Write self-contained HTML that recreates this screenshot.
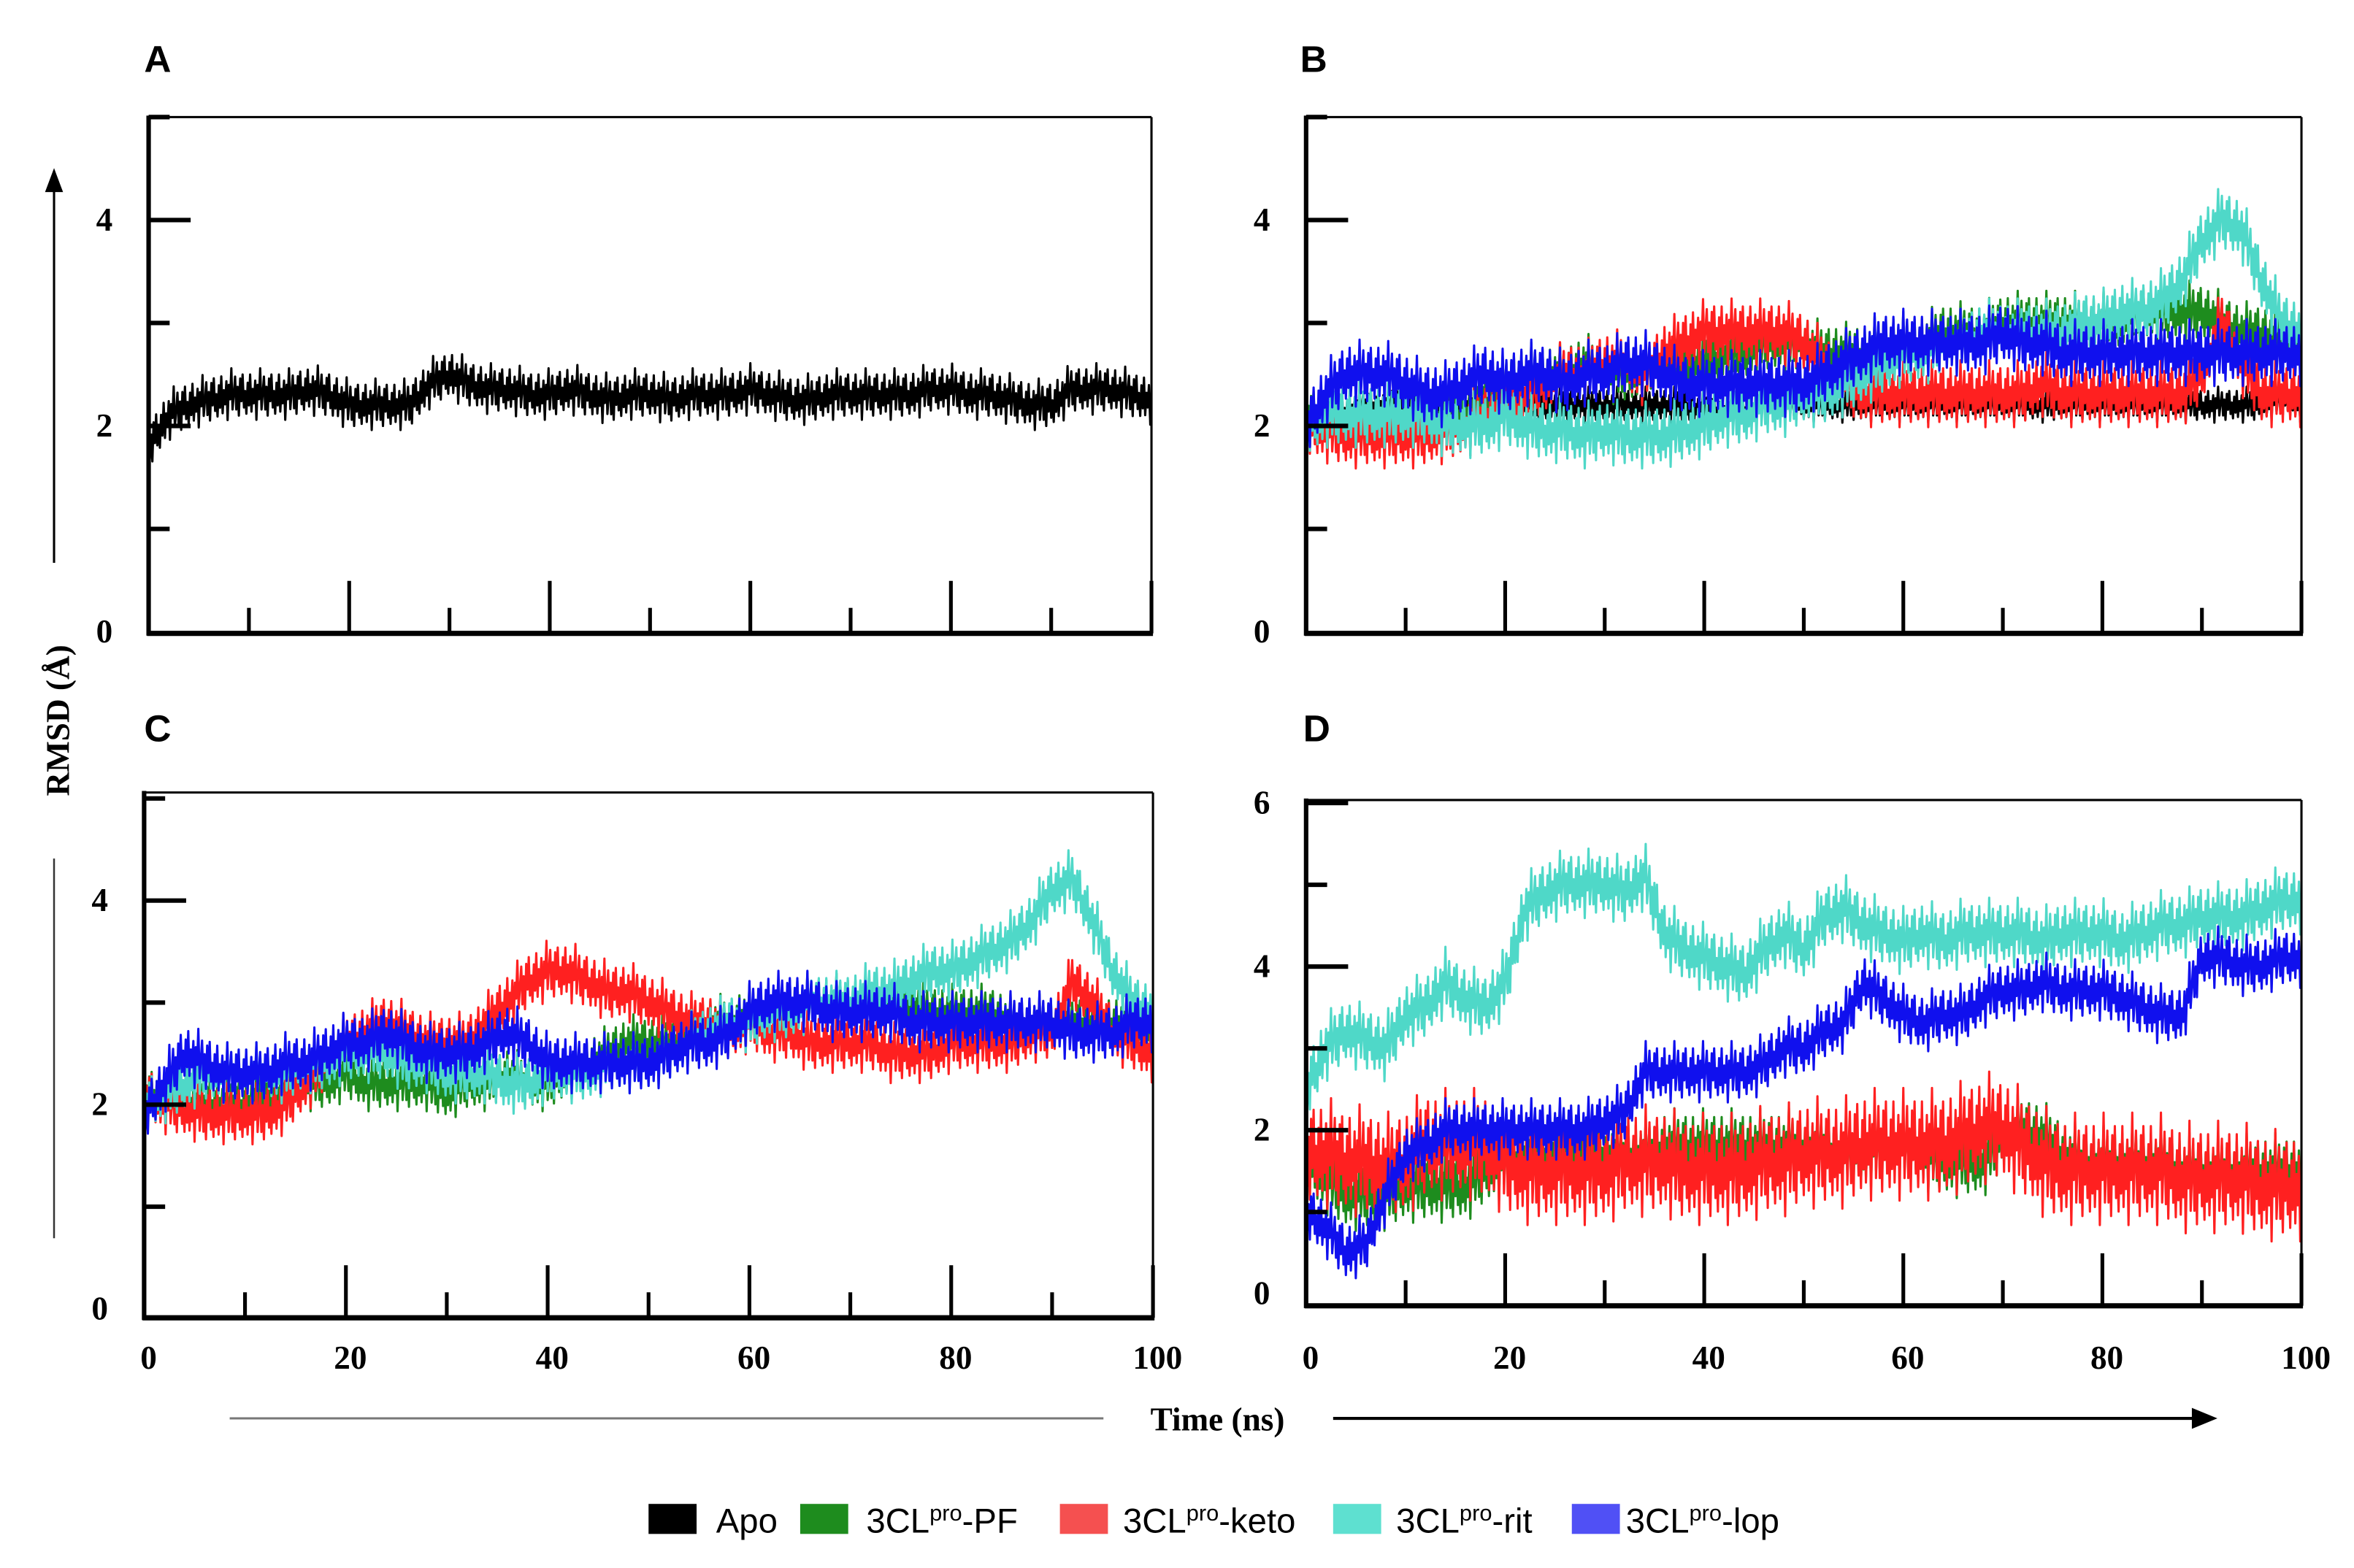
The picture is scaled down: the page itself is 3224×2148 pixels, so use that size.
<!DOCTYPE html>
<html><head><meta charset="utf-8"><title>RMSD panels</title>
<style>
html,body{margin:0;padding:0;background:#fff;}
svg{display:block;}
.tl{font-family:"Liberation Serif",serif;font-weight:bold;font-size:22px;}
.pl{font-family:"Liberation Sans",sans-serif;font-weight:bold;font-size:25px;}
.lg{font-family:"Liberation Sans",sans-serif;font-size:23px;}
</style></head><body>
<svg id="fig" width="3224" height="2148" viewBox="0 0 1568 1044.7" preserveAspectRatio="none" xmlns="http://www.w3.org/2000/svg">
<defs>
<clipPath id="cA"><rect x="99" y="78" width="668" height="344"/></clipPath>
<clipPath id="cB"><rect x="870" y="78" width="663" height="344"/></clipPath>
<clipPath id="cC"><rect x="96" y="528" width="672" height="350"/></clipPath>
<clipPath id="cD"><rect x="870" y="533" width="663" height="337"/></clipPath>
</defs>
<g id="plots"></g>
<text class="tl" transform="translate(46,480) rotate(-90)" text-anchor="middle" font-size="21">RMSD (Å)</text>
<line x1="36" y1="375" x2="36" y2="124" stroke="#000" stroke-width="1.5"/>
<polygon points="30,128 42,128 36,112" fill="#000"/>
<line x1="36" y1="572" x2="36" y2="825" stroke="#333" stroke-width="1.2"/>
<text class="tl" x="811" y="953" text-anchor="middle">Time (ns)</text>
<line x1="153" y1="945" x2="735" y2="945" stroke="#777" stroke-width="1.5"/>
<line x1="888" y1="945" x2="1462" y2="945" stroke="#000" stroke-width="2"/>
<polygon points="1460,938 1460,952 1477,945" fill="#000"/>
<text class="pl" x="96" y="48">A</text>
<text class="pl" x="866" y="48">B</text>
<text class="pl" x="96" y="494">C</text>
<text class="pl" x="868" y="494">D</text>
<g>
<g><rect x="432" y="1002" width="32" height="20" fill="#000"/><text class="lg" x="477" y="1021">Apo</text></g>
<g><rect x="533" y="1002" width="32" height="20" fill="#1e8c1e"/><text class="lg" x="577" y="1021">3CL<tspan font-size="15" dy="-8">pro</tspan><tspan dy="8">-PF</tspan></text></g>
<g><rect x="706" y="1002" width="32" height="20" fill="#f55050"/><text class="lg" x="748" y="1021">3CL<tspan font-size="15" dy="-8">pro</tspan><tspan dy="8">-keto</tspan></text></g>
<g><rect x="888" y="1002" width="32" height="20" fill="#5ee0d0"/><text class="lg" x="930" y="1021">3CL<tspan font-size="15" dy="-8">pro</tspan><tspan dy="8">-rit</tspan></text></g>
<g><rect x="1047" y="1002" width="32" height="20" fill="#5050f5"/><text class="lg" x="1083" y="1021">3CL<tspan font-size="15" dy="-8">pro</tspan><tspan dy="8">-lop</tspan></text></g>
</g>
</svg>
<script>
const times = [0,2,4,6,8,10,12,14,16,18,20,22,24,26,28,30,32,34,36,38,40,42,44,46,48,50,52,54,56,58,60,62,64,66,68,70,72,74,76,78,80,82,84,86,88,90,92,94,96,98,100];
const xTickLabels = ["0","20","40","60","80","100"];
const yTickLabelsABC = ["0","2","4"];
const yTickLabelsD = ["0","2","4","6"];
const A_apo = [1.8,2.1,2.2,2.25,2.3,2.3,2.3,2.3,2.35,2.3,2.2,2.2,2.2,2.2,2.4,2.5,2.4,2.35,2.35,2.3,2.3,2.35,2.3,2.25,2.3,2.3,2.25,2.3,2.3,2.3,2.35,2.3,2.25,2.25,2.3,2.3,2.3,2.3,2.3,2.35,2.35,2.3,2.3,2.25,2.2,2.2,2.35,2.35,2.35,2.3,2.25];
const B_apo = [1.9,2.1,2.15,2.2,2.2,2.25,2.2,2.2,2.2,2.2,2.2,2.2,2.2,2.2,2.2,2.2,2.2,2.2,2.2,2.2,2.15,2.15,2.15,2.2,2.2,2.2,2.2,2.2,2.2,2.2,2.2,2.2,2.2,2.2,2.2,2.2,2.2,2.2,2.2,2.2,2.2,2.2,2.2,2.2,2.2,2.2,2.2,2.2,2.2,2.25,2.2];
const B_pf = [2.1,2.1,2.0,2.0,2.0,2.0,2.0,2.1,2.1,2.2,2.4,2.5,2.5,2.5,2.6,2.5,2.5,2.5,2.6,2.6,2.6,2.7,2.7,2.8,2.8,2.8,2.7,2.7,2.7,2.8,2.8,2.8,2.9,2.9,2.9,3.0,3.0,3.0,3.0,3.0,3.0,3.0,3.1,3.1,3.1,3.1,3.0,2.9,2.9,2.8,2.8];
const B_keto = [2.0,1.95,1.9,1.9,1.9,1.9,1.9,1.95,2.0,2.1,2.2,2.3,2.4,2.5,2.5,2.6,2.6,2.5,2.7,2.8,2.9,2.9,2.9,2.9,2.9,2.8,2.6,2.4,2.3,2.3,2.3,2.3,2.3,2.3,2.3,2.3,2.3,2.4,2.3,2.3,2.3,2.3,2.3,2.3,2.3,2.5,3.0,2.6,2.3,2.3,2.3];
const B_rit = [2.0,2.1,2.1,2.1,2.1,2.1,2.1,2.0,2.0,2.0,2.1,2.0,1.95,1.95,1.9,1.95,1.9,1.9,1.9,1.95,2.0,2.1,2.1,2.2,2.2,2.3,2.3,2.4,2.5,2.6,2.7,2.7,2.8,2.8,2.9,2.9,2.9,2.9,2.9,3.0,3.0,3.1,3.1,3.2,3.4,3.8,4.0,3.9,3.4,3.0,2.9];
const B_lop = [2.0,2.3,2.5,2.5,2.5,2.4,2.3,2.3,2.4,2.5,2.4,2.5,2.5,2.4,2.5,2.5,2.6,2.6,2.5,2.4,2.4,2.4,2.4,2.4,2.4,2.4,2.5,2.6,2.7,2.8,2.8,2.8,2.8,2.8,2.8,2.9,2.8,2.8,2.7,2.7,2.7,2.7,2.7,2.7,2.7,2.7,2.7,2.7,2.7,2.7,2.7];
const C_pf = [2.1,2.1,2.0,2.0,2.0,2.0,2.1,2.1,2.2,2.2,2.3,2.2,2.2,2.2,2.2,2.1,2.2,2.2,2.3,2.2,2.2,2.3,2.4,2.5,2.6,2.6,2.6,2.7,2.8,2.8,2.9,2.9,3.0,3.0,3.0,3.0,3.0,3.0,3.0,2.9,2.9,2.9,2.9,2.8,2.8,2.8,2.8,2.8,2.8,2.8,2.7];
const C_keto = [2.1,2.0,1.95,1.9,1.9,1.9,1.9,2.0,2.2,2.4,2.6,2.7,2.8,2.7,2.6,2.6,2.6,2.8,3.0,3.2,3.3,3.3,3.2,3.1,3.1,3.0,2.9,2.8,2.8,2.7,2.8,2.7,2.7,2.6,2.6,2.6,2.6,2.5,2.5,2.5,2.6,2.6,2.6,2.6,2.7,2.7,3.2,3.0,2.7,2.6,2.5];
const C_rit = [2.0,2.1,2.2,2.3,2.3,2.3,2.3,2.3,2.4,2.4,2.5,2.5,2.5,2.4,2.4,2.3,2.3,2.3,2.2,2.2,2.3,2.3,2.3,2.4,2.4,2.4,2.5,2.6,2.7,2.8,2.8,2.9,2.9,3.0,3.0,3.0,3.1,3.1,3.2,3.3,3.3,3.4,3.5,3.6,3.8,4.1,4.2,3.8,3.3,3.0,2.9];
const C_lop = [1.9,2.2,2.5,2.4,2.3,2.3,2.3,2.4,2.4,2.5,2.6,2.6,2.7,2.6,2.5,2.5,2.5,2.6,2.7,2.6,2.4,2.4,2.4,2.4,2.4,2.4,2.5,2.6,2.6,2.7,2.9,3.0,3.0,3.0,2.9,2.9,2.9,2.9,2.8,2.8,2.8,2.8,2.8,2.8,2.8,2.8,2.7,2.7,2.7,2.8,2.8];
const D_pf = [1.6,1.4,1.2,1.2,1.2,1.3,1.3,1.3,1.3,1.5,1.6,1.7,1.7,1.8,1.8,1.7,1.7,1.7,1.8,1.8,1.8,1.8,1.8,1.8,1.8,1.8,1.8,1.7,1.7,1.8,1.8,1.7,1.6,1.6,1.6,1.9,2.0,1.9,1.7,1.6,1.6,1.6,1.6,1.6,1.5,1.5,1.5,1.5,1.5,1.5,1.5];
const D_keto = [1.7,1.7,1.6,1.6,1.5,1.6,1.8,1.8,1.8,1.8,1.6,1.5,1.5,1.5,1.5,1.5,1.6,1.6,1.6,1.5,1.5,1.5,1.5,1.6,1.6,1.7,1.7,1.7,1.8,1.8,1.8,1.8,1.8,1.9,2.0,2.0,1.8,1.6,1.5,1.5,1.5,1.5,1.5,1.5,1.4,1.4,1.4,1.4,1.3,1.3,1.3];
const D_rit = [2.5,3.0,3.2,3.1,3.0,3.4,3.5,3.8,3.6,3.5,3.8,4.7,4.9,5.0,5.0,5.0,4.9,5.1,4.4,4.2,4.1,4.0,3.9,4.2,4.4,4.2,4.6,4.7,4.5,4.4,4.3,4.4,4.3,4.4,4.4,4.4,4.4,4.3,4.4,4.4,4.4,4.3,4.4,4.5,4.5,4.6,4.6,4.6,4.7,4.8,4.8];
const D_lop = [1.0,0.8,0.5,0.6,1.2,1.7,1.8,2.0,2.0,2.0,2.0,2.0,2.0,2.0,2.0,2.1,2.2,2.7,2.7,2.7,2.7,2.7,2.7,2.8,3.0,3.0,3.2,3.3,3.8,3.6,3.4,3.3,3.4,3.4,3.6,3.7,3.7,3.8,3.7,3.7,3.7,3.6,3.5,3.4,3.4,4.1,4.1,4.0,4.0,4.1,4.1];

const COL = {apo:"#000000", pf:"#1e8c1e", keto:"#ff2020", rit:"#4fd8c8", lop:"#1010ee"};
const NS = "http://www.w3.org/2000/svg";
const root = document.getElementById("plots");
const jitter = [0.9,-0.7,0.4,-1,0.8,-0.3,1,-0.6,0.2,-0.9,0.6,-0.5,1,-0.8,0.3,-0.4,0.7,-1.2,0.5,-0.2,1.3,-0.7,0.1];

function mk(tag, attrs, parent){
  const e = document.createElementNS(NS, tag);
  for (const k in attrs) e.setAttribute(k, attrs[k]);
  parent.appendChild(e);
  return e;
}

const panels = [
  {id:"a", L:99, R:767, T:78, B:422, y0:421, k:68.6, ymax:5, yt:yTickLabelsABC, clip:"cA", xl:false,
   series:[["apo",A_apo,0.2]]},
  {id:"b", L:870, R:1533, T:78, B:422, y0:421, k:68.6, ymax:5, yt:yTickLabelsABC, clip:"cB", xl:false,
   series:[["apo",B_apo,0.14],["pf",B_pf,0.24],["keto",B_keto,0.26],["rit",B_rit,0.26],["lop",B_lop,0.26]]},
  {id:"c", L:96, R:768, T:528, B:878, y0:872, k:68, ymax:5, yt:yTickLabelsABC, clip:"cC", xl:true,
   series:[["pf",C_pf,0.22],["keto",C_keto,0.24],["rit",C_rit,0.24],["lop",C_lop,0.24]]},
  {id:"d", L:870, R:1533, T:533, B:870, y0:862, k:54.5, ymax:6, yt:yTickLabelsD, clip:"cD", xl:true,
   series:[["pf",D_pf,0.36],["keto",D_keto,0.55],["rit",D_rit,0.34],["lop",D_lop,0.3]]}
];

panels.forEach(p => {
  const g = mk("g", {}, root);
  
  
  const xS = t => p.L + (t/100)*(p.R - p.L);
  const yS = v => p.y0 - v*p.k;
  const sg = mk("g", {"clip-path":"url(#"+p.clip+")"}, g);
  p.series.forEach(s => {
    const [key, vals, amp] = s;
    let pts = [];
    let c = 0;
    for (let i = 0; i < vals.length - 1; i++) {
      const sub = 16;
      for (let j = 0; j < sub; j++) {
        const f = j/sub;
        const t = times[i] + f*(times[i+1]-times[i]);
        const v = vals[i] + f*(vals[i+1]-vals[i]) + amp*jitter[c % jitter.length];
        c++;
        pts.push(xS(t).toFixed(1) + "," + yS(v).toFixed(1));
      }
    }
    pts.push(xS(times[times.length-1]).toFixed(1) + "," + yS(vals[vals.length-1]).toFixed(1));
    const pl = mk("polyline", {points:pts.join(" "), fill:"none", stroke:COL[key], "stroke-width":"1.5", "stroke-linejoin":"round"}, sg);
    
    
  });
  const fr = mk("g", {}, g);
  
  
  mk("line", {x1:p.L, y1:p.T, x2:p.R, y2:p.T, stroke:"#000", "stroke-width":"1.5"}, fr);
  mk("line", {x1:p.R, y1:p.T, x2:p.R, y2:p.B, stroke:"#000", "stroke-width":"1.5"}, fr);
  mk("line", {x1:p.L, y1:p.T-1, x2:p.L, y2:p.B+1.5, stroke:"#000", "stroke-width":"3"}, fr);
  mk("line", {x1:p.L-1, y1:p.B, x2:p.R+1, y2:p.B, stroke:"#000", "stroke-width":"3.5"}, fr);
  for (let v = 1; v <= p.ymax; v++) {
    const major = v % 2 === 0;
    const tk = mk("line", {x1:p.L, y1:yS(v), x2:p.L + (major?28:14), y2:yS(v), stroke:"#000", "stroke-width":"3"}, fr);
    
    
  }
  p.yt.forEach((lab) => {
    const v = parseFloat(lab);
    const tx = mk("text", {x:p.L-35, y:yS(v)+7, class:"tl"}, g);
    tx.textContent = lab;
    
    
  });
  for (let t = 10; t <= 100; t += 10) {
    const major = t % 20 === 0;
    const tk = mk("line", {x1:xS(t), y1:p.B, x2:xS(t), y2:p.B - (major?35:17), stroke:"#000", "stroke-width":"2.5"}, fr);
    
    
  }
  if (p.xl) {
    xTickLabels.forEach(lab => {
      const t = parseFloat(lab);
      const tx = mk("text", {x:xS(t)+3, y:912, class:"tl", "text-anchor":"middle"}, g);
      tx.textContent = lab;
      
      
    });
  }
});
</script>
</body></html>
